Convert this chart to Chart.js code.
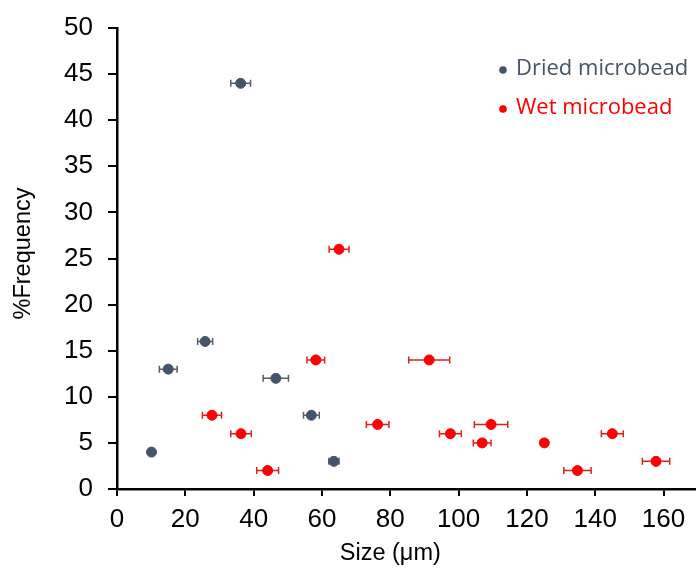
<!DOCTYPE html>
<html>
<head>
<meta charset="utf-8">
<style>
  html, body { margin: 0; padding: 0; background: #fff; }
  #wrap { width: 696px; height: 574px; }
</style>
<script src="https://cdn.jsdelivr.net/npm/chart.js@4/dist/chart.umd.min.js"></script>
</head>
<body>
<div id="wrap"><canvas id="c" width="696" height="574"></canvas></div>
<script>
// ---- data ----
const driedX   = [36.2, 15.0, 25.8, 46.5, 56.9, 10.1, 63.5];
const driedY   = [44, 13, 16, 12, 8, 4, 3];
const driedErr = [2.9, 2.6, 2.2, 3.7, 2.3, 0, 1.5];

const wetX   = [65.0, 58.2, 27.8, 36.3, 44.1, 91.4, 76.3, 97.6, 109.5, 106.9, 125.1, 145.0, 134.8, 157.8];
const wetY   = [26, 14, 8, 6, 2, 14, 7, 6, 7, 5, 5, 6, 2, 3];
const wetErr = [2.9, 2.6, 2.8, 3.0, 3.2, 6.0, 3.3, 3.2, 4.9, 2.6, 0, 3.2, 4.0, 4.0];

const seriesNames = ['Dried microbead', 'Wet microbead'];
const xTickValues = [0, 20, 40, 60, 80, 100, 120, 140, 160];
const xTitle = 'Size (\u03bcm)';
const yTitle = '%Frequency';

const DARK = '#44546A';
const RED = '#FF0000';

function toPts(xs, ys, es) { return xs.map((x, i) => ({ x: x, y: ys[i], e: es[i] })); }

const errorBars = {
  id: 'errorBars',
  beforeDatasetsDraw(chart) {
    const ctx = chart.ctx, xs = chart.scales.x, ys = chart.scales.y;
    chart.data.datasets.forEach(ds => {
      ctx.save();
      ctx.strokeStyle = ds.errColor;
      ctx.lineWidth = 1.5;
      ds.data.forEach(p => {
        if (!p.e) return;
        const y = ys.getPixelForValue(p.y);
        const x1 = xs.getPixelForValue(p.x - p.e);
        const x2 = xs.getPixelForValue(p.x + p.e);
        ctx.beginPath();
        ctx.moveTo(x1, y); ctx.lineTo(x2, y);
        ctx.moveTo(x1, y - 3.5); ctx.lineTo(x1, y + 3.5);
        ctx.moveTo(x2, y - 3.5); ctx.lineTo(x2, y + 3.5);
        ctx.stroke();
      });
      ctx.restore();
    });
  }
};

const extras = {
  id: 'extras',
  afterDraw(chart) {
    const ctx = chart.ctx, xs = chart.scales.x, ca = chart.chartArea;
    ctx.save();
    // axis titles
    ctx.fillStyle = '#000';
    ctx.font = '23.5px "Liberation Sans", Arial, sans-serif';
    ctx.textAlign = 'center';
    ctx.textBaseline = 'middle';
    ctx.fillText(xTitle, xs.getPixelForValue(80), 554);
    ctx.save();
    ctx.translate(24, (ca.top + ca.bottom) / 2 - 5);
    ctx.rotate(-Math.PI / 2);
    ctx.fillText(yTitle, 0, 0);
    ctx.restore();
    // legend
    const items = [[seriesNames[0], DARK, 70], [seriesNames[1], RED, 109]];
    ctx.font = '22px "Open Sans", "Noto Sans", sans-serif';
    ctx.textAlign = 'left';
    items.forEach(([t, c, y]) => {
      ctx.fillStyle = c;
      ctx.beginPath(); ctx.arc(503, y, 3.8, 0, Math.PI * 2); ctx.fill();
      ctx.fillText(t, 516, y - 1);
    });
    ctx.restore();
  }
};

new Chart(document.getElementById('c'), {
  type: 'scatter',
  data: {
    datasets: [
      { label: seriesNames[0], data: toPts(driedX, driedY, driedErr), backgroundColor: DARK, borderColor: DARK,
        pointRadius: 5, pointHoverRadius: 5, errColor: '#5a5f66' },
      { label: seriesNames[1], data: toPts(wetX, wetY, wetErr), backgroundColor: RED, borderColor: RED,
        pointRadius: 5, pointHoverRadius: 5, errColor: '#E02020' }
    ]
  },
  options: {
    responsive: false,
    animation: false,
    devicePixelRatio: 1,
    layout: { autoPadding: false, padding: { top: 28, right: 0, left: 0, bottom: 0 } },
    plugins: { legend: { display: false }, tooltip: { enabled: false } },
    scales: {
      x: {
        type: 'linear', min: 0, max: 169.5,
        afterBuildTicks(s) { s.ticks = xTickValues.map(v => ({ value: v })); },
        afterFit(s) { s.height = 85; },
        grid: { display: true, drawOnChartArea: false, drawTicks: true, tickLength: 7, color: '#000', lineWidth: 2 },
        border: { display: true, color: '#000', width: 2.5 },
        ticks: { color: '#000', padding: 8, maxRotation: 0, autoSkip: false,
          font: { family: '"Liberation Sans", Arial, sans-serif', size: 26 } }
      },
      y: {
        type: 'linear', min: 0, max: 50,
        afterFit(s) { s.width = 117; },
        grid: { display: true, drawOnChartArea: false, drawTicks: true, tickLength: 9, color: '#000', lineWidth: 2 },
        border: { display: true, color: '#000', width: 2.5 },
        ticks: { stepSize: 5, color: '#000', padding: 15, autoSkip: false,
          font: { family: '"Liberation Sans", Arial, sans-serif', size: 26, lineHeight: 1 } }
      }
    }
  },
  plugins: [errorBars, extras]
});
</script>
</body>
</html>
